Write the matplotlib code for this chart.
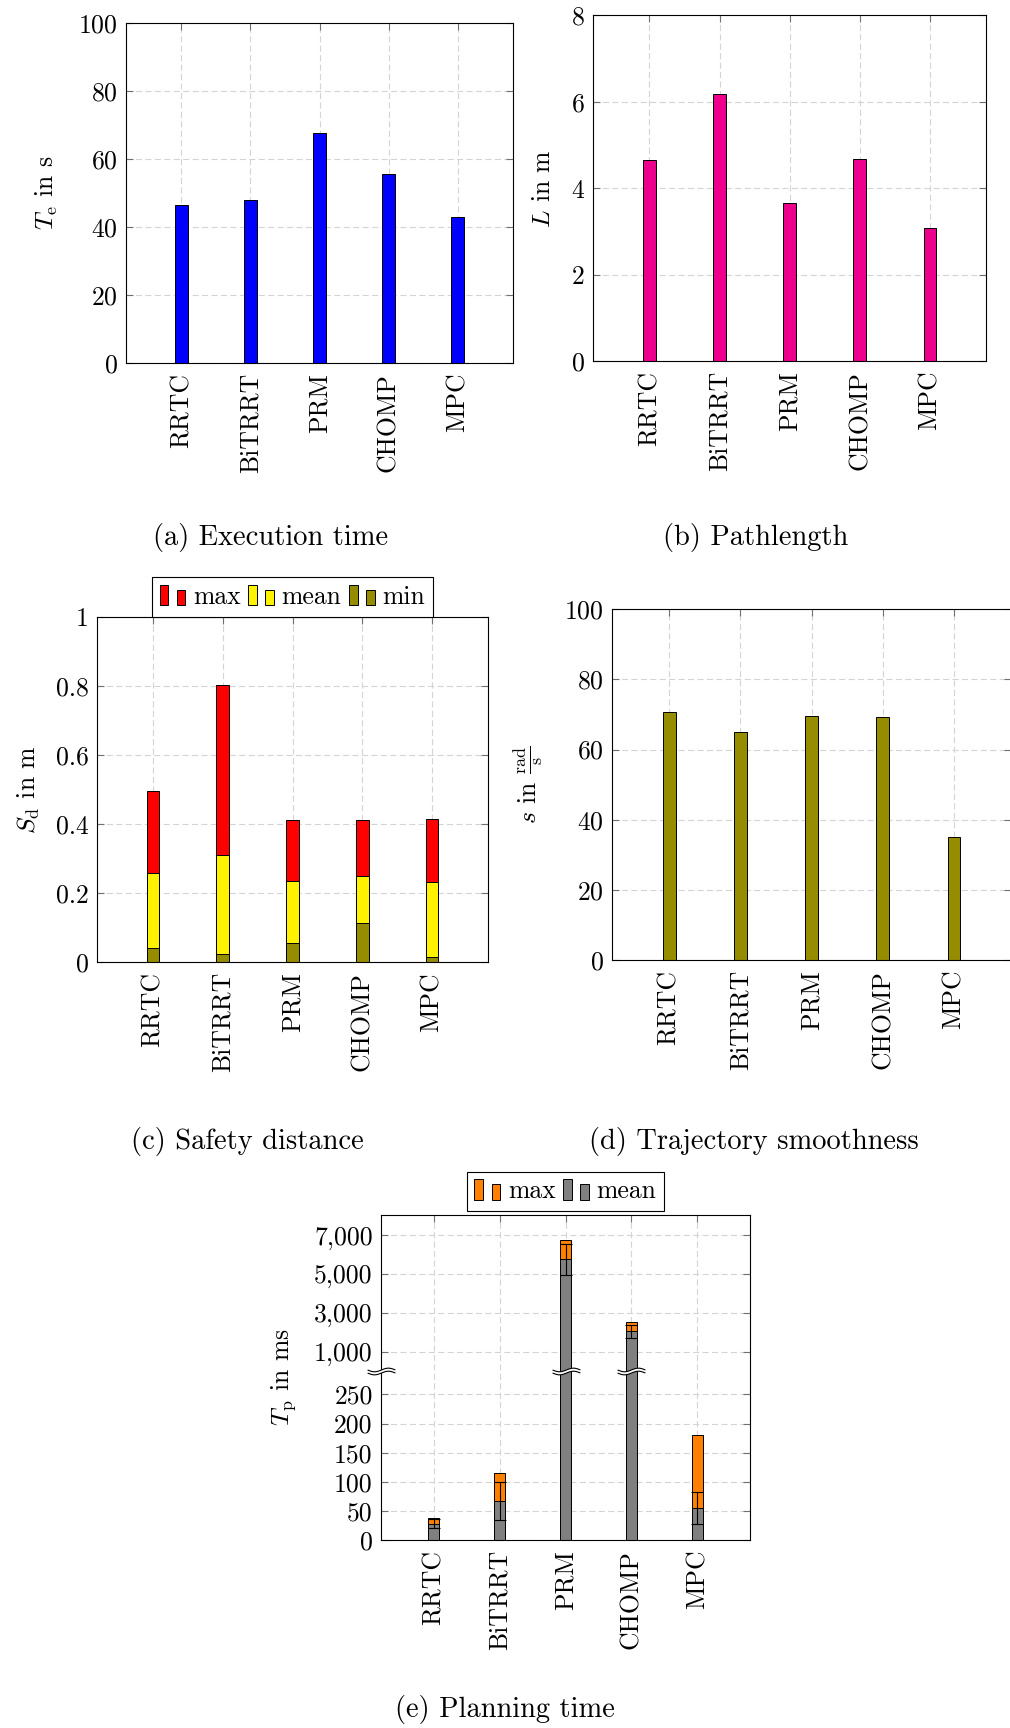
"""plot.py -- planner comparison, 5 sub-figures (pgfplots look-alike)."""
import numpy as np
import matplotlib
matplotlib.use("Agg")
import matplotlib.pyplot as plt
from matplotlib.legend_handler import HandlerBase
from matplotlib.patches import Rectangle, Patch
from matplotlib.path import Path
from matplotlib.ticker import FuncFormatter

# ── data ──────────────────────────────────────────────────────────
PLANNERS = ["RRTC", "BiTRRT", "PRM", "CHOMP", "MPC"]

EXEC_TIME = [46.5, 47.8, 67.5, 55.4, 42.9]          # s
PATH_LENGTH = [4.64, 6.19, 3.66, 4.68, 3.07]        # m

SAFETY_MAX = [0.497, 0.801, 0.411, 0.412, 0.414]    # m
SAFETY_MEAN = [0.257, 0.311, 0.236, 0.249, 0.233]
SAFETY_MIN = [0.040, 0.025, 0.055, 0.115, 0.015]

SMOOTHNESS = [70.6, 65.0, 69.5, 69.3, 35.1]         # rad/s

PLAN_MAX = [38, 115, 6740, 2520, 180]               # ms
PLAN_MEAN = [28, 67, 5760, 2040, 55]
PLAN_STD = [8, 32, 800, 320, 28]
PLAN_YTICKS = [0, 50, 100, 150, 200, 250, 1000, 3000, 5000, 7000]

CAPTIONS = ["(a) Execution time", "(b) Pathlength", "(c) Safety distance",
            "(d) Trajectory smoothness", "(e) Planning time"]

# ── style ─────────────────────────────────────────────────────────
plt.rcParams.update({
    "font.family": "cmr10",
    "mathtext.fontset": "cm",
    "axes.formatter.use_mathtext": True,
    "font.size": 18.5,
})

W, H = 1010, 1728
BAR_W = 0.18
BREAK_AT = 290      # axis coordinate of the "≈" break in (e)


def add_axes_px(fig, left, top, right, bottom):
    return fig.add_axes([left / W, 1 - bottom / H,
                         (right - left) / W, (bottom - top) / H])


def style_axes(ax, ylabel, label_x):
    ax.set_xlim(-0.8, 4.8)
    ax.set_xticks(range(len(PLANNERS)))
    ax.set_xticklabels(PLANNERS, rotation=90)
    ax.tick_params(direction="in", length=5, width=0.8, color="#707070",
                   top=True, right=True, labelsize=18.5)
    ax.tick_params(axis="x", pad=7)
    ax.tick_params(axis="y", pad=6)
    ax.grid(True, color="#d4d4d4", linestyle=(0, (5.5, 3)), linewidth=0.8)
    ax.set_axisbelow(True)
    for s in ax.spines.values():
        s.set_linewidth(0.8)
    ax.set_ylabel(ylabel)
    ax.yaxis.set_label_coords(label_x, 0.5)


class TwoBarHandler(HandlerBase):
    """pgfplots-style ybar legend image: two little bars."""
    def create_artists(self, legend, orig_handle, xdescent, ydescent,
                       width, height, fontsize, trans):
        bw = width / 3
        r1 = Rectangle((-xdescent, -ydescent), bw, height)
        r2 = Rectangle((-xdescent + 2 * bw, -ydescent), bw, 0.77 * height)
        for r in (r1, r2):
            r.set_facecolor(orig_handle.get_facecolor())
            r.set_edgecolor("black")
            r.set_linewidth(0.7)
            r.set_transform(trans)
        return [r1, r2]


def top_legend(ax, colors, labels, gap):
    handles = [Patch(facecolor=c) for c in colors]
    leg = ax.legend(handles, labels, loc="lower center", ncol=len(labels),
                    bbox_to_anchor=(0.5, 1.0), borderaxespad=gap,
                    handler_map={Patch: TwoBarHandler()},
                    handlelength=1.0, handleheight=0.85, handletextpad=0.3,
                    columnspacing=0.3, borderpad=0.3, fancybox=False,
                    framealpha=1, edgecolor="black", fontsize=18.5)
    leg.get_frame().set_linewidth(0.8)
    return leg


def break_paths():
    xs = np.linspace(-1, 1, 41)
    wave = 0.13 * np.sin(np.pi * xs)
    top, bot = wave + 0.11, wave - 0.11
    fill = Path(np.vstack([np.column_stack([xs, top]),
                           np.column_stack([xs[::-1], bot[::-1]]),
                           [[xs[0], top[0]]]]))
    n = len(xs)
    verts = np.vstack([np.column_stack([xs, top]), np.column_stack([xs, bot])])
    codes = ([Path.MOVETO] + [Path.LINETO] * (n - 1)) * 2
    return fill, Path(verts, codes)


def draw_break(ax, x):
    fill, lines = break_paths()
    ax.plot([x], [BREAK_AT], marker=fill, markersize=20, markerfacecolor="white",
            markeredgewidth=0, linestyle="none", clip_on=False, zorder=5)
    ax.plot([x], [BREAK_AT], marker=lines, markersize=20, markerfacecolor="none",
            markeredgecolor="black", markeredgewidth=0.8, linestyle="none",
            clip_on=False, zorder=6)


# piecewise y axis of (e): linear up to 300, then compressed by 1/30
def plan_fwd(y):
    y = np.asarray(y, dtype=float)
    return np.where(y <= 300, y, 290 + y / 30)


def plan_inv(t):
    t = np.asarray(t, dtype=float)
    return np.where(t <= 300, t, (t - 290) * 30)


fig = plt.figure(figsize=(W / 100, H / 100), dpi=100)
x = np.arange(len(PLANNERS))

# (a) execution time
ax = add_axes_px(fig, 126, 22.7, 513, 363)
ax.bar(x, EXEC_TIME, width=BAR_W, color="#0000ff", edgecolor="black", linewidth=0.7)
ax.set_ylim(0, 100)
ax.set_yticks([0, 20, 40, 60, 80, 100])
style_axes(ax, r"$T_\mathrm{e}$ in s", -0.171)

# (b) path length
ax = add_axes_px(fig, 593.3, 15.3, 986, 361)
ax.bar(x, PATH_LENGTH, width=BAR_W, color="#ec008c", edgecolor="black", linewidth=0.7)
ax.set_ylim(0, 8)
ax.set_yticks([0, 2, 4, 6, 8])
style_axes(ax, r"$L$ in m", -0.098)

# (c) safety distance (overlaid bars)
ax = add_axes_px(fig, 97, 616.7, 488, 962.3)
safety_colors = ["#ff0000", "#fff200", "#968c00"]
for vals, c in zip([SAFETY_MAX, SAFETY_MEAN, SAFETY_MIN], safety_colors):
    ax.bar(x, vals, width=BAR_W, color=c, edgecolor="black", linewidth=0.7)
ax.set_ylim(0, 1)
ax.set_yticks([0, 0.2, 0.4, 0.6, 0.8, 1])
ax.set_yticklabels(["0", "0.2", "0.4", "0.6", "0.8", "1"])
style_axes(ax, r"$S_\mathrm{d}$ in m", -0.141)
top_legend(ax, safety_colors, ["max", "mean", "min"], 0)

# (d) trajectory smoothness
ax = add_axes_px(fig, 612.3, 609.3, 1011, 960)
ax.bar(x, SMOOTHNESS, width=BAR_W, color="#968c00", edgecolor="black", linewidth=0.7)
ax.set_ylim(0, 100)
ax.set_yticks([0, 20, 40, 60, 80, 100])
style_axes(ax, r"$s$ in $\frac{\mathrm{rad}}{\mathrm{s}}$", -0.169)

# (e) planning time with broken axis
ax = add_axes_px(fig, 381, 1215, 750, 1540)
ax.set_yscale("function", functions=(plan_fwd, plan_inv))
ax.bar(x, PLAN_MAX, width=0.17, color="#ff8000", edgecolor="black", linewidth=0.7)
ax.bar(x, PLAN_MEAN, width=0.17, color="#808080", edgecolor="black", linewidth=0.7,
       yerr=PLAN_STD, capsize=4,
       error_kw=dict(elinewidth=0.8, capthick=0.8, ecolor="black"))
ax.set_ylim(0, 8040)
ax.set_yticks(PLAN_YTICKS)
ax.yaxis.set_major_formatter(FuncFormatter(lambda v, _: f"{v:,.0f}"))
style_axes(ax, r"$T_\mathrm{p}$ in ms", -0.225)
top_legend(ax, ["#ff8000", "#808080"], ["max", "mean"], 0.15)
draw_break(ax, -0.8)
for i, v in enumerate(PLAN_MAX):
    if v > 300:
        draw_break(ax, x[i])

# sub-figure captions
caption_pos = [(271, 545), (756, 545), (247, 1149), (754, 1149), (505, 1717)]
for text, (cx, cy) in zip(CAPTIONS, caption_pos):
    fig.text(cx / W, 1 - cy / H, text, ha="center", va="baseline", fontsize=20.5)

fig.savefig("out.png", dpi=100)
